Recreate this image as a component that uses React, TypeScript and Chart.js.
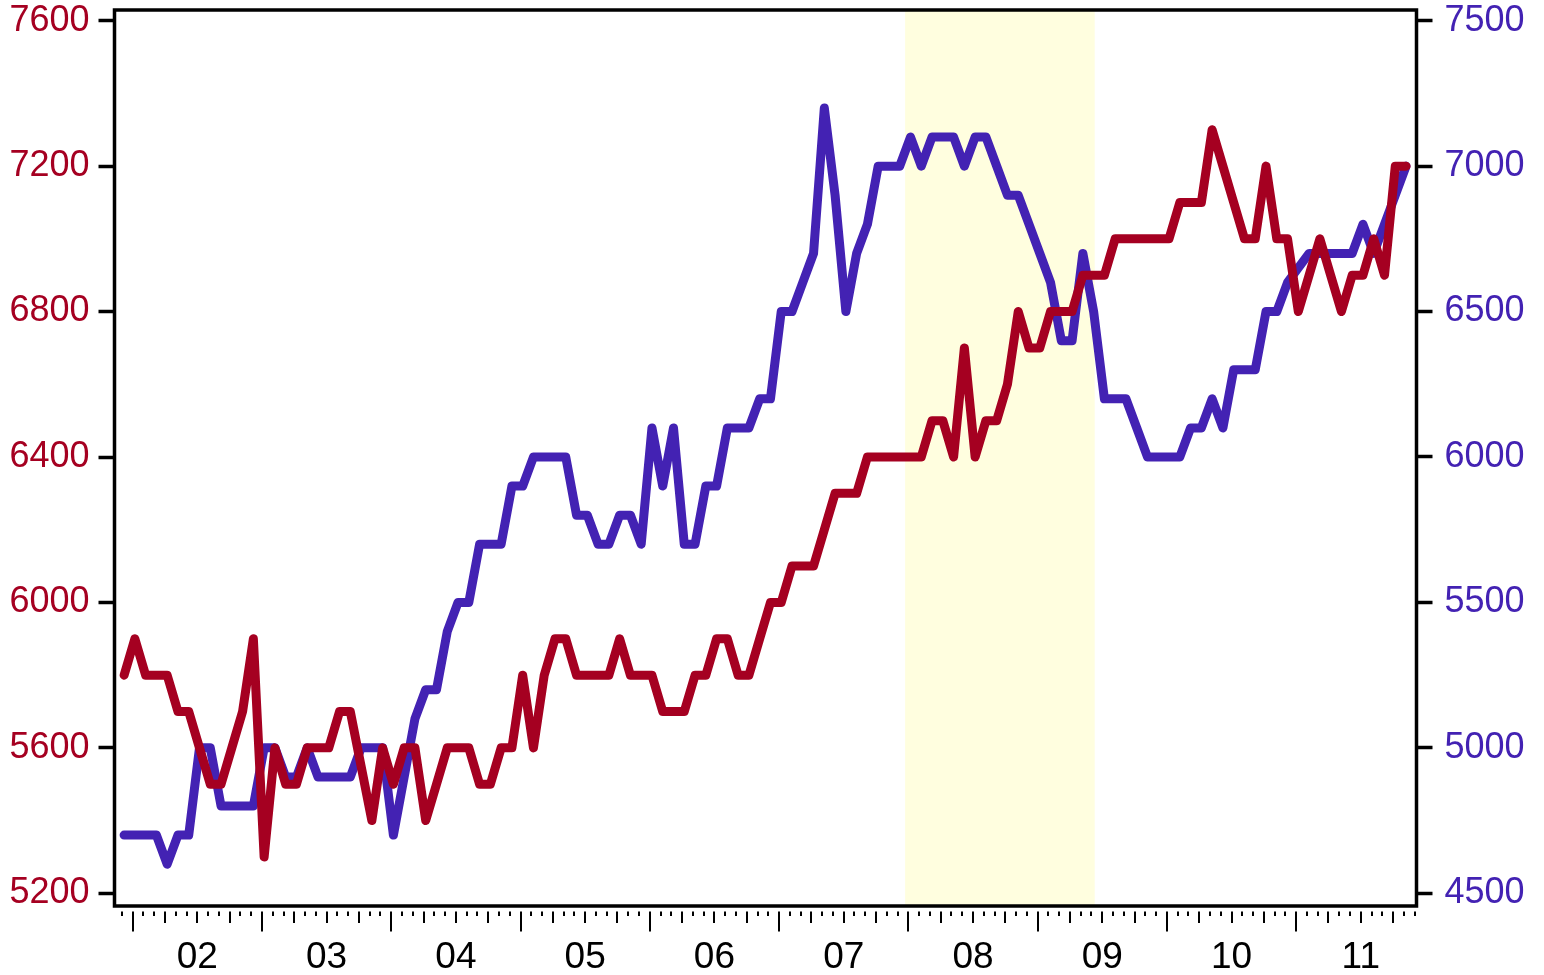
import React, { useEffect, useRef } from "react";
import { Chart, registerables } from "chart.js";

Chart.register(...registerables);

// Monthly observations, first = Dec 2001, last = Nov 2011
const FIRST_MONTH_INDEX = -1; // months from Jan 2002
const DAY_OFFSET = 0.2; // observation taken early in the month

const redSeries: number[] = [
  5800, // Dec 01
  5900, 5800, 5800, 5800, 5700, 5700, 5600, 5500, 5500, 5600, 5700, 5900, // 2002
  5300, 5600, 5500, 5500, 5600, 5600, 5600, 5700, 5700, 5550, 5400, 5600, // 2003
  5500, 5600, 5600, 5400, 5500, 5600, 5600, 5600, 5500, 5500, 5600, 5600, // 2004
  5800, 5600, 5800, 5900, 5900, 5800, 5800, 5800, 5800, 5900, 5800, 5800, // 2005
  5800, 5700, 5700, 5700, 5800, 5800, 5900, 5900, 5800, 5800, 5900, 6000, // 2006
  6000, 6100, 6100, 6100, 6200, 6300, 6300, 6300, 6400, 6400, 6400, 6400, // 2007
  6400, 6400, 6500, 6500, 6400, 6700, 6400, 6500, 6500, 6600, 6800, 6700, // 2008
  6700, 6800, 6800, 6800, 6900, 6900, 6900, 7000, 7000, 7000, 7000, 7000, // 2009
  7000, 7100, 7100, 7100, 7300, 7200, 7100, 7000, 7000, 7200, 7000, 7000, // 2010
  6800, 6900, 7000, 6900, 6800, 6900, 6900, 7000, 6900, 7200, 7200, // 2011 (Jan-Nov)
];

const blueSeries: number[] = [
  4700, // Dec 01
  4700, 4700, 4700, 4600, 4700, 4700, 5000, 5000, 4800, 4800, 4800, 4800, // 2002
  5000, 5000, 4900, 4900, 5000, 4900, 4900, 4900, 4900, 5000, 5000, 5000, // 2003
  4700, 4900, 5100, 5200, 5200, 5400, 5500, 5500, 5700, 5700, 5700, 5900, // 2004
  5900, 6000, 6000, 6000, 6000, 5800, 5800, 5700, 5700, 5800, 5800, 5700, // 2005
  6100, 5900, 6100, 5700, 5700, 5900, 5900, 6100, 6100, 6100, 6200, 6200, // 2006
  6500, 6500, 6600, 6700, 7200, 6900, 6500, 6700, 6800, 7000, 7000, 7000, // 2007
  7100, 7000, 7100, 7100, 7100, 7000, 7100, 7100, 7000, 6900, 6900, 6800, // 2008
  6700, 6600, 6400, 6400, 6700, 6500, 6200, 6200, 6200, 6100, 6000, 6000, // 2009
  6000, 6000, 6100, 6100, 6200, 6100, 6300, 6300, 6300, 6500, 6500, 6600, // 2010
  6650, 6700, 6700, 6700, 6700, 6700, 6800, 6700, 6800, 6900, 7000, // 2011 (Jan-Nov)
];

const leftTicks: number[] = [5200, 5600, 6000, 6400, 6800, 7200, 7600];
const rightTicks: number[] = [4500, 5000, 5500, 6000, 6500, 7000, 7500];
const yearLabels: string[] = ["02", "03", "04", "05", "06", "07", "08", "09", "10", "11"];

// shaded period (months from Jan 2002): Dec 2007 - Jun 2009
const shadeStart = 71.7;
const shadeEnd = 89.3;

const RED = "#A50021";
const BLUE = "#4322B3";
const SHADE = "#FFFEDF";
const FONT = "'Liberation Sans', Arial, Helvetica, sans-serif";

export default function App() {
  const ref = useRef<HTMLCanvasElement | null>(null);

  useEffect(() => {
    const canvas = ref.current;
    if (!canvas) return;

    const toPoints = (arr: number[]) =>
      arr.map((v, i) => ({ x: FIRST_MONTH_INDEX + i + DAY_OFFSET, y: v }));

    const shadePlugin = {
      id: "shade",
      beforeDatasetsDraw(chart: any) {
        const { ctx, chartArea, scales } = chart;
        const x0 = scales.x.getPixelForValue(shadeStart);
        const x1 = scales.x.getPixelForValue(shadeEnd);
        ctx.save();
        ctx.fillStyle = SHADE;
        ctx.fillRect(x0, chartArea.top, x1 - x0, chartArea.bottom - chartArea.top);
        ctx.restore();
      },
    };

    const framePlugin = {
      id: "frame",
      afterDraw(chart: any) {
        const { ctx, chartArea, scales } = chart;
        ctx.save();
        ctx.strokeStyle = "#000";
        ctx.lineWidth = 3.5;
        ctx.strokeRect(
          chartArea.left,
          chartArea.top,
          chartArea.right - chartArea.left,
          chartArea.bottom - chartArea.top
        );
        // monthly ticks with quarter / year emphasis
        const xs = scales.x;
        const y0 = chartArea.bottom + 5.5;
        ctx.lineWidth = 2;
        const first = Math.ceil(xs.min);
        const last = Math.floor(xs.max);
        for (let m = first; m <= last; m++) {
          const mm = ((m % 12) + 12) % 12;
          const len = mm === 0 ? 20 : mm % 3 === 0 ? 11.5 : 4.5;
          const px = Math.round(xs.getPixelForValue(m));
          ctx.beginPath();
          ctx.moveTo(px, y0);
          ctx.lineTo(px, y0 + len);
          ctx.stroke();
        }
        ctx.restore();
      },
    };

    const chart = new Chart(canvas, {
      type: "line",
      data: {
        datasets: [
          {
            data: toPoints(redSeries),
            borderColor: RED,
            backgroundColor: RED,
            borderWidth: 9,
            pointRadius: 0,
            tension: 0,
            borderJoinStyle: "round",
            borderCapStyle: "round",
            yAxisID: "yL",
          },
          {
            data: toPoints(blueSeries),
            borderColor: BLUE,
            backgroundColor: BLUE,
            borderWidth: 9,
            pointRadius: 0,
            tension: 0,
            borderJoinStyle: "round",
            borderCapStyle: "round",
            yAxisID: "yR",
          },
        ],
      },
      options: {
        animation: false,
        responsive: false,
        maintainAspectRatio: false,
        layout: { padding: { top: 10, left: 0, right: 0, bottom: 0 } },
        plugins: {
          legend: { display: false },
          tooltip: { enabled: false },
        },
        scales: {
          x: {
            type: "linear",
            min: -1.69,
            max: 119.17,
            grid: { display: false, drawTicks: false },
            border: { display: false },
            afterBuildTicks: (s: any) => {
              s.ticks = yearLabels.map((_, i) => ({ value: i * 12 + 6 }));
            },
            afterFit: (s: any) => {
              s.height = 975 - 906;
              s.paddingLeft = 0;
              s.paddingRight = 0;
            },
            ticks: {
              autoSkip: false,
              maxRotation: 0,
              padding: 30,
              color: "#000",
              font: { family: FONT, size: 37 },
              callback: (v: any) => {
                const i = Math.round((Number(v) - 6) / 12);
                return yearLabels[i] ?? "";
              },
            },
          },
          yL: {
            type: "linear",
            position: "left",
            min: 5165.1,
            max: 7629.4,
            grid: {
              display: true,
              drawOnChartArea: false,
              drawTicks: true,
              tickLength: 16,
              tickWidth: 3.5,
              tickColor: "#000",
            },
            border: { display: false },
            afterBuildTicks: (s: any) => {
              s.ticks = leftTicks.map((v) => ({ value: v }));
            },
            afterFit: (s: any) => {
              s.width = 114.5;
              s.paddingTop = 0;
              s.paddingBottom = 0;
            },
            ticks: {
              padding: 9,
              color: RED,
              font: { family: FONT, size: 36 },
              callback: (v: any) => String(v),
            },
          },
          yR: {
            type: "linear",
            position: "right",
            min: 4456.3,
            max: 7536.8,
            grid: {
              display: true,
              drawOnChartArea: false,
              drawTicks: true,
              tickLength: 16,
              tickWidth: 3.5,
              tickColor: "#000",
            },
            border: { display: false },
            afterBuildTicks: (s: any) => {
              s.ticks = rightTicks.map((v) => ({ value: v }));
            },
            afterFit: (s: any) => {
              s.width = 1544 - 1416.5;
              s.paddingTop = 0;
              s.paddingBottom = 0;
            },
            ticks: {
              padding: 12,
              color: BLUE,
              font: { family: FONT, size: 36 },
              callback: (v: any) => String(v),
            },
          },
        },
      },
      plugins: [shadePlugin, framePlugin],
    } as any);

    return () => chart.destroy();
  }, []);

  return (
    <div style={{ position: "fixed", left: 0, top: 0, width: 1544, height: 975, background: "#fff" }}>
      <canvas ref={ref} width={1544} height={975} style={{ width: 1544, height: 975, display: "block" }} />
    </div>
  );
}
